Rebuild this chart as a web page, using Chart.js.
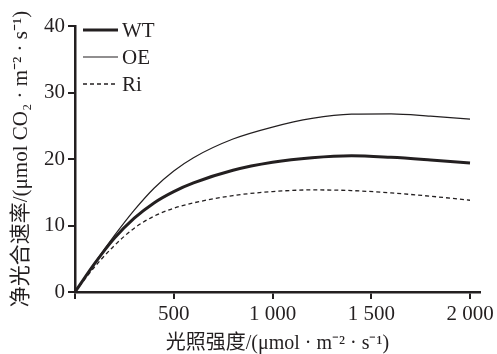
<!DOCTYPE html>
<html>
<head>
<meta charset="utf-8">
<script src="https://cdn.jsdelivr.net/npm/chart.js@4.4.0/dist/chart.umd.min.js"></script>
<style>
  html, body { margin: 0; padding: 0; background: #fff; }
</style>
</head>
<body>
<canvas id="lightChart" width="497" height="354"></canvas>
<script>
const ink = '#231f20'
const serif = "'Liberation Serif', 'Noto Sans CJK SC', serif"

////////// Data //////////
const lightLevels = [0, 100, 200, 300, 400, 500, 600, 800, 1000, 1200, 1400, 1600, 1800, 2000]
const wtRate = [0, 4.3, 8.1, 11.1, 13.4, 15.1, 16.4, 18.3, 19.5, 20.2, 20.5, 20.25, 19.85, 19.4]
const oeRate = [0, 4.4, 8.5, 12.3, 15.6, 18.2, 20.2, 23.0, 24.8, 26.1, 26.75, 26.8, 26.45, 26.0]
const riRate = [0, 3.8, 7.0, 9.6, 11.4, 12.6, 13.4, 14.5, 15.1, 15.35, 15.25, 14.9, 14.4, 13.8]
const seriesNames = ['WT', 'OE', 'Ri']
const xTicks = [0, 500, 1000, 1500, 2000]
const yTicks = [0, 10, 20, 30, 40]

const toPoints = values => values.map((v, i) => ({ x: lightLevels[i], y: v }))

// thousands with a space, like "1 000"
const formatTick = v => v === 0 ? '' : String(v).replace(/\B(?=(\d{3})+(?!\d))/g, ' ')

////////// Legend (inside the plot, top left) //////////
const cornerLegend = {
  id: 'cornerLegend',
  afterDraw: chart => {
    const ctx = chart.ctx
    const area = chart.chartArea
    ctx.save()
    ctx.font = '21px ' + serif
    ctx.fillStyle = ink
    ctx.textBaseline = 'middle'
    chart.data.datasets.forEach((ds, i) => {
      const y = area.top + 4 + i * 27
      ctx.beginPath()
      ctx.strokeStyle = ds.borderColor
      ctx.lineWidth = ds.borderWidth
      ctx.setLineDash(ds.borderDash || [])
      ctx.moveTo(area.left + 8, y)
      ctx.lineTo(area.left + 43, y)
      ctx.stroke()
      ctx.setLineDash([])
      ctx.fillText(ds.label, area.left + 47, y + 1)
    })
    ctx.restore()
  }
}

////////// Chart //////////
var ctx = document.getElementById('lightChart').getContext('2d')

var lightChart = new Chart(ctx, {
  type: 'line',
  data: {
    datasets: [{
      label: seriesNames[0],
      data: toPoints(wtRate),
      borderColor: ink,
      borderWidth: 3,
    }, {
      label: seriesNames[1],
      data: toPoints(oeRate),
      borderColor: ink,
      borderWidth: 1.2,
    }, {
      label: seriesNames[2],
      data: toPoints(riRate),
      borderColor: ink,
      borderWidth: 1.3,
      borderDash: [4, 3],
    }]
  },
  options: {
    responsive: false,
    animation: false,
    layout: { padding: { top: 26, right: 15, left: 0, bottom: 0 } },
    elements: {
      point: { radius: 0 },
      line: { cubicInterpolationMode: 'monotone', fill: false }
    },
    plugins: {
      legend: { display: false },
      tooltip: { enabled: false }
    },
    scales: {
      x: {
        type: 'linear',
        min: 0,
        max: 2050,
        afterBuildTicks: scale => { scale.ticks = xTicks.map(v => ({ value: v })) },
        afterFit: scale => { scale.height = 62 },
        grid: { drawOnChartArea: false, tickLength: 7, color: ink, lineWidth: 2 },
        border: { color: ink, width: 2.5 },
        ticks: {
          callback: formatTick,
          color: ink,
          font: { family: serif, size: 21 },
          padding: 3,
          maxRotation: 0,
          autoSkip: false
        },
        title: {
          display: true,
          text: '光照强度/(μmol · m⁻² · s⁻¹)',
          color: ink,
          font: { family: serif, size: 20, lineHeight: 1 },
          padding: { top: 0, bottom: 0 }
        }
      },
      y: {
        min: 0,
        max: 40,
        afterBuildTicks: scale => { scale.ticks = yTicks.map(v => ({ value: v })) },
        afterFit: scale => { scale.width = 75 },
        grid: { drawOnChartArea: false, tickLength: 7, color: ink, lineWidth: 2 },
        border: { color: ink, width: 2.5 },
        ticks: {
          color: ink,
          font: { family: serif, size: 21 },
          padding: 3
        },
        title: {
          display: true,
          text: '净光合速率/(μmol CO₂ · m⁻² · s⁻¹)',
          color: ink,
          font: { family: serif, size: 21 },
          padding: { top: 9, bottom: 0 }
        }
      }
    }
  },
  plugins: [cornerLegend]
})
</script>
</body>
</html>
